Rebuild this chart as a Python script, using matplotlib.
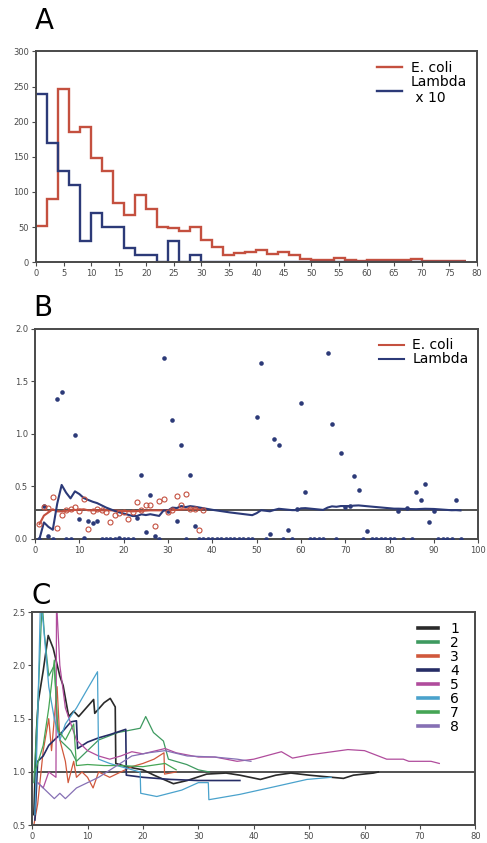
import matplotlib
matplotlib.use("Agg")
import matplotlib.pyplot as plt
import numpy as np

# ---------- data ----------
# A: histogram, bin width 2 (edges 0..78)
hist_edges = list(range(0, 79, 2))
ecoli_counts = [52, 90, 247, 185, 193, 148, 130, 84, 67, 95, 75, 50, 48, 45, 50,
                32, 22, 10, 13, 15, 17, 12, 15, 10, 5, 3, 3, 6, 3, 2, 3, 3, 3, 3,
                4, 2, 1, 1, 1]
lambda_counts_x10 = [240, 170, 130, 110, 30, 70, 50, 50, 20, 10, 10, 0, 30, 0, 10,
                     0, 0, 0, 0, 0, 0, 0, 0, 0, 0, 0, 0, 0, 0, 0, 0, 0, 0, 0,
                     0, 0, 0, 0, 0]

# B: per-sample values
lambda_pts = [0, 0.31, 0.03, 0, 1.33, 1.40, 0, 0, 0.99, 0.19, 0.01, 0.17, 0.15, 0.17,
              0, 0, 0, 0, 0.01, 0, 0, 0, 0.20, 0.61, 0.06, 0.42, 0.03, 0, 1.72, 0.26,
              1.13, 0.17, 0.89, 0, 0.61, 0.12, 0, 0, 0, 0, 0, 0, 0, 0, 0, 0, 0, 0, 0,
              1.16, 1.67, 0, 0.04, 0.95, 0.89, 0, 0.08, 0, 0.28, 1.29, 0.44, 0, 0, 0,
              0, 1.77, 1.09, 0, 0.82, 0.30, 0.31, 0.60, 0.46, 0, 0.07, 0, 0, 0, 0, 0,
              0, 0.26, 0, 0.29, 0, 0.44, 0.37, 0.52, 0.16, 0.26, 0, 0, 0, 0, 0.37, 0]
ecoli_pts = [0.14, 0.30, 0.29, 0.40, 0.10, 0.23, 0.27, 0.28, 0.30, 0.26, 0.38, 0.09,
             0.26, 0.28, 0.27, 0.25, 0.16, 0.23, 0.24, 0.25, 0.19, 0.25, 0.35, 0.27,
             0.32, 0.32, 0.12, 0.36, 0.38, 0.25, 0.27, 0.41, 0.32, 0.43, 0.28, 0.28,
             0.08, 0.27]
lambda_avg_x = [1, 2, 3, 4, 5, 6, 7, 8, 9, 10, 11, 12, 13, 14, 16, 18, 19, 22, 23, 24,
                25, 26, 28, 29, 30, 31, 32, 33, 34, 35, 36, 40, 44, 49, 50, 51, 53, 54,
                55, 58, 59, 60, 61, 65, 66, 67, 68, 69, 71, 72, 73, 75, 81, 82, 84, 86,
                88, 89, 90, 94, 95, 96]
lambda_avg_y = [0, 0.155, 0.113, 0.085, 0.334, 0.512, 0.439, 0.384, 0.451, 0.425,
                0.387, 0.369, 0.352, 0.339, 0.297, 0.264, 0.251, 0.216, 0.216, 0.232,
                0.225, 0.233, 0.217, 0.269, 0.269, 0.296, 0.292, 0.311, 0.301, 0.310,
                0.305, 0.275, 0.250, 0.224, 0.243, 0.271, 0.261, 0.274, 0.285, 0.272,
                0.272, 0.289, 0.291, 0.274, 0.296, 0.308, 0.304, 0.311, 0.311, 0.315,
                0.317, 0.309, 0.286, 0.286, 0.283, 0.281, 0.285, 0.284, 0.283, 0.271,
                0.272, 0.269]
ecoli_avg_x = [1, 2, 3, 4, 5, 6, 8, 11, 12, 17, 22, 26, 30, 34, 38]
ecoli_avg_y = [0.14, 0.22, 0.25, 0.28, 0.26, 0.26, 0.27, 0.28, 0.27, 0.27, 0.26, 0.27,
               0.27, 0.28, 0.28]
b_ref = 0.27

# C: running ratios, 8 series
c1_x = [0.3, 0.8, 1.1, 2, 2.9, 3.8, 5, 5.6, 6.6, 7.5, 8.4, 11.1, 11.3, 13, 14.1, 15,
        15.1, 17, 20, 22, 25.5, 28, 31.5, 35, 37.5, 41.2, 44, 46.7, 50, 56.2, 58,
        61.6, 62.5]
c1_y = [0.6, 1.4, 1.66, 1.95, 2.28, 2.16, 1.90, 1.81, 1.52, 1.57, 1.52, 1.68, 1.55,
        1.65, 1.69, 1.61, 1.08, 1.05, 1.02, 0.97, 0.89, 0.92, 0.98, 0.99, 0.97, 0.93,
        0.97, 0.99, 0.97, 0.94, 0.97, 0.99, 1.0]
c2_x = [0.3, 1, 1.8, 2.2, 3, 4, 4.5, 5, 6, 7, 8, 10, 12, 15.5, 19.5, 20.5, 21.9, 23.7,
        24.6, 27.9, 30, 32]
c2_y = [0.9, 1.6, 2.6, 2.3, 1.9, 2.0, 1.5, 1.3, 1.25, 1.2, 1.1, 1.2, 1.3, 1.37, 1.41,
        1.52, 1.37, 1.29, 1.12, 1.07, 1.02, 1.0]
c3_x = [0.3, 1, 2, 3, 3.5, 4.5, 5, 6, 6.5, 7.5, 8, 9, 10, 11, 12, 14, 16, 18, 20, 22,
        23.8, 23.9, 26]
c3_y = [0.5, 0.7, 1.2, 1.5, 1.2, 1.8, 1.3, 1.1, 0.9, 1.1, 0.95, 1.0, 0.95, 0.85, 1.0,
        0.95, 1.0, 1.05, 1.08, 1.12, 1.18, 0.98, 1.0]
c4_x = [0.5, 1, 2, 3, 5, 7, 8, 8.2, 10, 12, 14, 16.9, 17, 20, 25, 30, 37.5]
c4_y = [0.55, 1.1, 1.15, 1.25, 1.35, 1.47, 1.48, 1.22, 1.28, 1.32, 1.35, 1.40, 0.97,
        0.95, 0.93, 0.92, 0.92]
c5_x = [1, 2, 3, 4.3, 4.4, 5, 6, 8, 10, 12, 14, 16, 18, 20, 24, 26, 28, 30, 33, 37,
        40, 45, 47, 50, 57, 60, 62, 64, 67, 68, 72, 73.5]
c5_y = [0.9, 0.85, 1.0, 0.95, 2.6, 2.0, 1.6, 1.3, 1.2, 1.15, 1.12, 1.15, 1.19, 1.17,
        1.22, 1.18, 1.16, 1.14, 1.14, 1.10, 1.12, 1.19, 1.13, 1.16, 1.21, 1.20, 1.16,
        1.12, 1.12, 1.10, 1.10, 1.08]
c6_x = [0.5, 1, 1.5, 2, 3, 4, 5, 6, 8, 10, 11.8, 12, 14, 16, 19.5, 19.6, 22.5, 27, 30,
        31.8, 31.9, 37.5, 43.6, 49.6, 54]
c6_y = [0.6, 1.5, 2.6, 2.4, 1.8, 1.5, 1.3, 1.45, 1.6, 1.78, 1.94, 1.12, 1.08, 1.05,
        1.0, 0.80, 0.77, 0.83, 0.90, 0.90, 0.74, 0.79, 0.86, 0.93, 0.95]
c7_x = [0.5, 2, 3, 4, 4.6, 6, 7.5, 8, 10, 13, 16, 20, 24, 26]
c7_y = [1.0, 1.25, 1.6, 2.05, 1.4, 1.3, 1.45, 1.06, 1.07, 1.06, 1.06, 1.05, 1.08, 1.02]
c8_x = [1, 2, 4, 5, 6, 8, 10, 12, 15, 18, 21, 24, 28, 33, 37, 39.5]
c8_y = [0.9, 0.85, 0.75, 0.8, 0.75, 0.85, 0.9, 0.95, 1.05, 1.15, 1.18, 1.2, 1.15,
        1.14, 1.12, 1.10]
c_xs = [c1_x, c2_x, c3_x, c4_x, c5_x, c6_x, c7_x, c8_x]
c_ys = [c1_y, c2_y, c3_y, c4_y, c5_y, c6_y, c7_y, c8_y]
c_labels = ["1", "2", "3", "4", "5", "6", "7", "8"]
c_colors = ["#2a2a2a", "#3e9a60", "#d0583c", "#262d66", "#b04c9c", "#4aa2cc",
            "#45a555", "#8670b4"]

RED = "#c4503f"
BLUE = "#2c3a78"
SPINE = "#4a4a4a"

fig = plt.figure(figsize=(4.87, 8.43), dpi=100)


def _style(ax):
    for s in ax.spines.values():
        s.set_color(SPINE)
        s.set_linewidth(1.4)
    ax.tick_params(direction="out", length=3, width=0.8, colors=SPINE,
                   labelsize=6, pad=2)


# ---------- A ----------
ax_a = fig.add_axes([0.074, 0.689, 0.905, 0.250])
ax_a.stairs(ecoli_counts, hist_edges, color=RED, lw=1.7, baseline=None,
            label="E. coli")
ax_a.stairs(lambda_counts_x10, hist_edges, color=BLUE, lw=1.7, baseline=None,
            label="Lambda\n x 10")
ax_a.set_xlim(0, 80)
ax_a.set_ylim(0, 300)
ax_a.set_xticks(range(0, 81, 5))
ax_a.set_yticks(range(0, 301, 50))
_style(ax_a)
ax_a.legend(loc="upper right", frameon=False, fontsize=10, handlelength=1.8,
            labelspacing=0.0, borderaxespad=0.3, handletextpad=0.6)
fig.text(0.072, 0.975, "A", fontsize=20, ha="left", va="center")

# ---------- B ----------
ax_b = fig.add_axes([0.072, 0.361, 0.910, 0.249])
bx_l = np.arange(1, len(lambda_pts) + 1)
bx_e = np.arange(1, len(ecoli_pts) + 1)
ax_b.axhline(b_ref, color="#333333", lw=1.2, zorder=1)
ax_b.plot(bx_l, lambda_pts, "o", color=BLUE, ms=3.3, mew=0, zorder=3)
ax_b.plot(bx_e, ecoli_pts, "o", mfc="none", mec=RED, ms=3.6, mew=0.8, zorder=3)
ax_b.plot(ecoli_avg_x, ecoli_avg_y, color=RED, lw=1.5, label="E. coli", zorder=2)
ax_b.plot(lambda_avg_x, lambda_avg_y, color=BLUE, lw=1.5, label="Lambda", zorder=2)
ax_b.set_xlim(0, 100)
ax_b.set_ylim(0, 2.0)
ax_b.set_xticks(range(0, 101, 10))
ax_b.set_yticks([0, 0.5, 1.0, 1.5, 2.0])
ax_b.set_yticklabels(["0.0", "0.5", "1.0", "1.5", "2.0"])
_style(ax_b)
ax_b.legend(loc="upper right", frameon=False, fontsize=10, handlelength=1.8,
            labelspacing=0.0, borderaxespad=0.3, handletextpad=0.6)
fig.text(0.068, 0.635, "B", fontsize=20, ha="left", va="center")

# ---------- C ----------
ax_c = fig.add_axes([0.066, 0.021, 0.910, 0.253])
ax_c.axhline(1.0, color="#333333", lw=1.2, zorder=1)
for xs, ys, lab, col in zip(c_xs, c_ys, c_labels, c_colors):
    lw = 1.2 if lab in ("1", "4") else 0.9
    ax_c.plot(xs, ys, color=col, lw=lw, label=lab, zorder=2)
ax_c.set_xlim(0, 80)
ax_c.set_ylim(0.5, 2.5)
ax_c.set_xticks(range(0, 81, 10))
ax_c.set_yticks([0.5, 1.0, 1.5, 2.0, 2.5])
_style(ax_c)
leg = ax_c.legend(loc="upper right", frameon=False, fontsize=10, handlelength=1.4,
                  labelspacing=0.0, borderaxespad=0.3, handletextpad=0.9,
                  bbox_to_anchor=(0.985, 1.0))
for h in leg.get_lines():
    h.set_linewidth(2.6)
fig.text(0.065, 0.293, "C", fontsize=20, ha="left", va="center")

fig.savefig("out.png", dpi=100)
